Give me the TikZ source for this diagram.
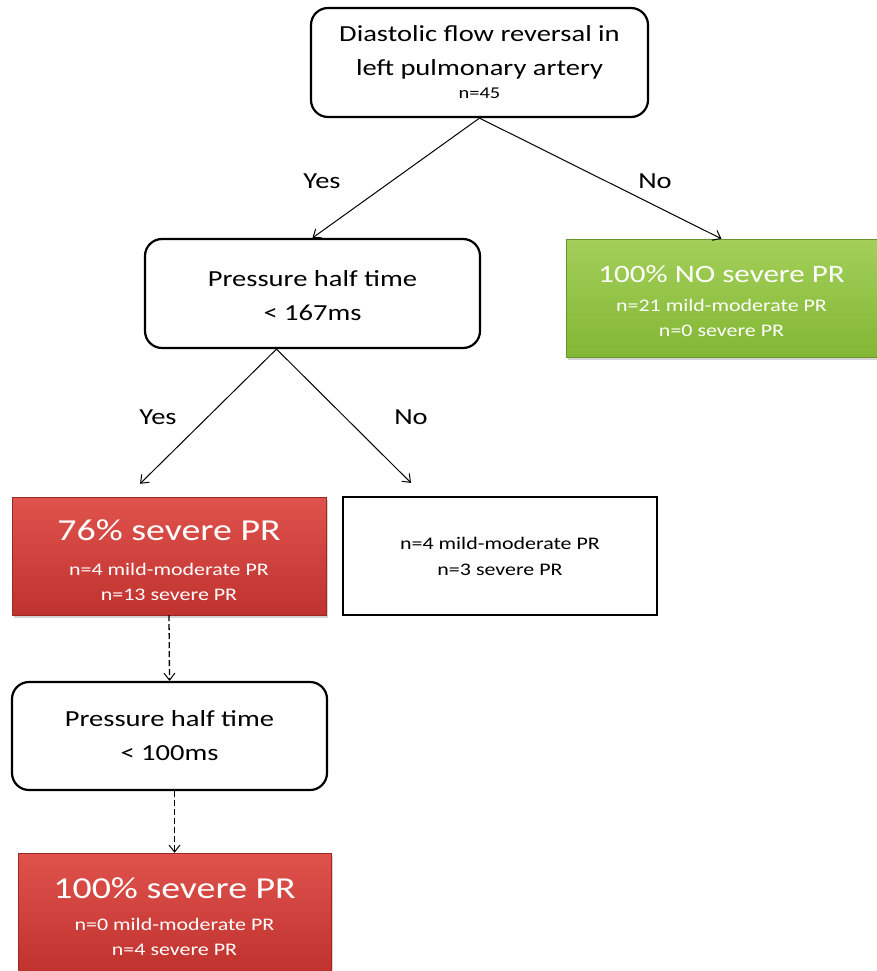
\documentclass[tikz,border=0pt]{standalone}
\usepackage{fontspec}
\setmainfont{Carlito}[FakeStretch=1.24]
\usetikzlibrary{arrows.meta,calc,shadows}
\definecolor{gtop}{RGB}{164,208,90}
\definecolor{gbot}{RGB}{130,182,52}
\definecolor{rtop}{RGB}{224,82,76}
\definecolor{rbot}{RGB}{192,50,46}
\begin{document}
\begin{tikzpicture}[x=1pt,y=-1pt,
  qbox/.style={draw,line width=2.2pt,rounded corners=17pt,align=center,inner sep=0pt,
    font=\fontsize{23}{34}\selectfont},
  wbox/.style={draw,line width=2.2pt,align=center,inner sep=0pt,
    font=\fontsize{17.7}{26}\selectfont},
  cbox/.style={align=center,inner sep=0pt,text=white,
    drop shadow={shadow xshift=2pt,shadow yshift=-2.5pt,opacity=0.35},
    font=\fontsize{17.7}{25}\selectfont},
  greenbox/.style={cbox,top color=gtop,bottom color=gbot,draw=gbot!80!black,line width=0.4pt},
  redbox/.style={cbox,top color=rtop,bottom color=rbot,draw=rbot!80!black,line width=0.4pt},
  lbl/.style={font=\fontsize{23}{28}\selectfont,inner sep=0pt},
  arr/.style={line width=1pt,-{Straight Barb[length=7pt,width=11pt,line width=1pt]}},
  darr/.style={arr,line width=1.3pt,dash pattern=on 6pt off 3pt}
]
\useasboundingbox (0,0) rectangle (877,971);

\node[qbox,minimum width=337pt,minimum height=109pt] (top) at (479.5,62.5)
  {Diastolic flow reversal in\\left pulmonary artery\\[-11pt]{\fontsize{16.5}{18}\selectfont n=45}};

\node[greenbox,minimum width=311pt,minimum height=118pt] (green) at (721.5,298)
  {{\fontsize{25}{30}\selectfont\rule{0pt}{23pt}100\% NO severe PR}\\[4pt]n=21 mild-moderate PR\\n=0 severe PR};

\node[qbox,minimum width=335pt,minimum height=109pt] (p1) at (312.5,293.5)
  {\rule{0pt}{21pt}Pressure half time\\< 167ms};

\node[redbox,minimum width=314pt,minimum height=118pt] (r76) at (169,556)
  {{\fontsize{30.5}{34}\selectfont\rule{0pt}{30pt}76\% severe PR}\\[10pt]n=4 mild-moderate PR\\n=13 severe PR};

\node[wbox,minimum width=314pt,minimum height=118pt] (wb) at (500,556)
  {n=4 mild-moderate PR\\n=3 severe PR};

\node[qbox,minimum width=315pt,minimum height=108pt] (p2) at (169.5,736)
  {Pressure half time\\< 100ms};

\node[redbox,minimum width=313pt,minimum height=118pt] (r100) at (174.5,912)
  {{\fontsize{30.5}{34}\selectfont\rule{0pt}{30pt}100\% severe PR}\\[7pt]n=0 mild-moderate PR\\n=4 severe PR};

% connectors
\draw[arr] (top.south) -- (p1.north);
\draw[arr] (top.south) -- (green.north);
\coordinate (p1a) at ($(p1.south)+(-36,0)$);
\coordinate (yesend) at ($(r76.north)+(-29,-13)$);
\coordinate (noend) at ($(wb.north)+(-89,-13)$);
\draw[arr] (p1a) -- (yesend);
\draw[arr] (p1a) -- (noend);
\draw[darr] (r76.south) -- (p2.north);
\draw[darr] (p2.south -| r100.north) -- (r100.north);

% labels
\node[lbl] (y1) at (322,181) {Yes};
\node[lbl] (n1) at (655,181) {No};
\node[lbl] (y2) at (158,417) {Yes};
\node[lbl] (n2) at (411,417) {No};
\end{tikzpicture}
\end{document}
